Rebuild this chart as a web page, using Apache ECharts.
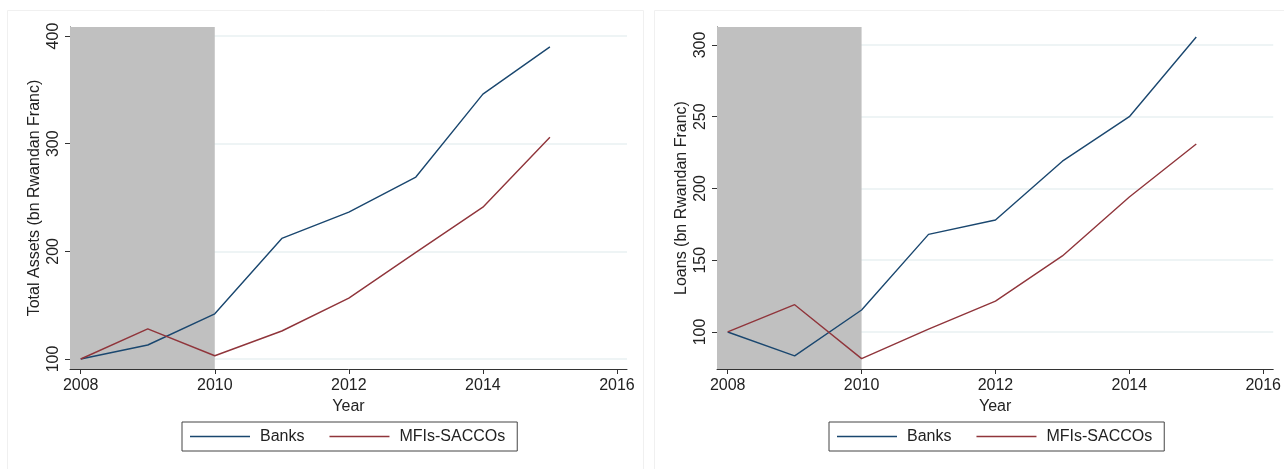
<!DOCTYPE html>
<html>
<head>
<meta charset="utf-8">
<script src="https://cdn.jsdelivr.net/npm/echarts@6/dist/echarts.min.js"></script>
<style>
  html, body { margin: 0; padding: 0; background: #ffffff; }
  #chart { width: 1284px; height: 469px; }
</style>
</head>
<body>
<div id="chart"></div>
<script>
// Years on the horizontal axis
const years = [2008, 2009, 2010, 2011, 2012, 2013, 2014, 2015];

// Total assets, bn Rwandan Franc
const assetsBanks = [100, 113, 142, 212, 236.5, 269, 346, 390];
const assetsMfis  = [100, 128, 103, 126, 156.5, 199, 241, 306];

// Loans, bn Rwandan Franc
const loansBanks = [100, 83.3, 115.3, 168, 178, 219, 250, 305.5];
const loansMfis  = [100, 119, 81.4, 102, 121.5, 153, 194, 231];

// Tick labels
const yearTicks   = [2008, 2010, 2012, 2014, 2016];
const assetsTicks = [100, 200, 300, 400];
const loansTicks  = [100, 150, 200, 250, 300];

// Shaded crisis period ends here
const shadeEnd = 2010;

const seriesNames = ['Banks', 'MFIs-SACCOs'];

const NAVY = '#1a476f';
const MAROON = '#90353b';
const INK = '#222222';
const FONT = '"Liberation Sans", Arial, Helvetica, sans-serif';

const X_MIN = 2007.84, X_MAX = 2016.15;

const pairs = (vals) => years.map((y, i) => [y, vals[i]]);

function xAxisFor(grid) {
  return {
    type: 'value', gridIndex: grid, min: X_MIN, max: X_MAX,
    name: 'Year', nameLocation: 'middle', nameGap: 27,
    nameTextStyle: { fontSize: 16, color: INK, fontFamily: FONT },
    axisLine: { show: true, onZero: false, lineStyle: { color: '#333', width: 1 } },
    axisTick: { show: true, length: 5, customValues: yearTicks, lineStyle: { color: '#333' } },
    axisLabel: {
      customValues: yearTicks, fontSize: 16, margin: 9, color: INK, fontFamily: FONT,
      formatter: (v) => String(Math.round(v))
    },
    splitLine: { show: false }
  };
}

function yAxisFor(grid, name, min, max, ticks) {
  return {
    type: 'value', gridIndex: grid, min: min, max: max,
    name: name, nameLocation: 'middle', nameGap: 27, nameRotate: 90,
    nameTextStyle: { fontSize: 16, color: INK, fontFamily: FONT },
    axisLine: { show: true, onZero: false, lineStyle: { color: '#333', width: 1 } },
    axisTick: { show: true, length: 5, customValues: ticks, lineStyle: { color: '#333' } },
    axisLabel: {
      customValues: ticks, rotate: 90, fontSize: 16, margin: 8, color: INK, fontFamily: FONT,
      formatter: (v) => String(Math.round(v))
    },
    splitLine: { show: false }
  };
}

function panelSeries(grid, banks, mfis, ticks) {
  return [
    // horizontal grid lines at tick values
    {
      type: 'line', xAxisIndex: grid, yAxisIndex: grid, data: [], z: 0, silent: true,
      markLine: {
        z: 0, silent: true, symbol: 'none', label: { show: false },
        lineStyle: { color: '#e8f0f2', width: 1.5, type: 'solid' },
        data: ticks.map(t => ({ yAxis: t }))
      }
    },
    // grey shaded period
    {
      type: 'line', xAxisIndex: grid, yAxisIndex: grid, data: [], z: 1, silent: true,
      markArea: {
        z: 1, silent: true, itemStyle: { color: '#c0c0c0', opacity: 1 },
        data: [[{ xAxis: X_MIN }, { xAxis: shadeEnd }]]
      }
    },
    {
      name: seriesNames[0], type: 'line', xAxisIndex: grid, yAxisIndex: grid, z: 3,
      data: pairs(banks), symbol: 'none', showSymbol: false,
      lineStyle: { color: NAVY, width: 1.4 }, itemStyle: { color: NAVY }
    },
    {
      name: seriesNames[1], type: 'line', xAxisIndex: grid, yAxisIndex: grid, z: 3,
      data: pairs(mfis), symbol: 'none', showSymbol: false,
      lineStyle: { color: MAROON, width: 1.4 }, itemStyle: { color: MAROON }
    }
  ];
}

function legendAt(left) {
  return {
    left: left, top: 422, orient: 'horizontal',
    data: seriesNames.map(n => ({ name: n, icon: 'rect' })),
    itemWidth: 60, itemHeight: 1.6, itemGap: 25,
    borderColor: '#444', borderWidth: 1, borderRadius: 0,
    padding: [6, 12, 6, 8], backgroundColor: '#ffffff',
    selectedMode: false,
    textStyle: { fontSize: 16, color: INK, fontFamily: FONT, padding: [0, 0, 0, 5], lineHeight: 17 }
  };
}

const chart = echarts.init(document.getElementById('chart'), null, { renderer: 'canvas' });
chart.setOption({
  animation: false,
  backgroundColor: '#ffffff',
  textStyle: { fontFamily: FONT },
  graphic: [
    { type: 'rect', shape: { x: 7.5, y: 10.5, width: 636, height: 470 }, style: { fill: 'none', stroke: '#f0f0f0', lineWidth: 1 }, z: -1 },
    { type: 'rect', shape: { x: 654.5, y: 10.5, width: 640, height: 470 }, style: { fill: 'none', stroke: '#f0f0f0', lineWidth: 1 }, z: -1 }
  ],
  grid: [
    { left: 70, top: 27, width: 557, height: 342 },
    { left: 717, top: 27, width: 558, height: 342 }
  ],
  xAxis: [xAxisFor(0), xAxisFor(1)],
  yAxis: [
    yAxisFor(0, 'Total Assets (bn Rwandan Franc)', 90.7, 408.4, assetsTicks),
    yAxisFor(1, 'Loans (bn Rwandan Franc)', 74.2, 312.5, loansTicks)
  ],
  legend: [legendAt(182), legendAt(829)],
  series: [
    ...panelSeries(0, assetsBanks, assetsMfis, assetsTicks),
    ...panelSeries(1, loansBanks, loansMfis, loansTicks)
  ]
});
</script>
</body>
</html>
